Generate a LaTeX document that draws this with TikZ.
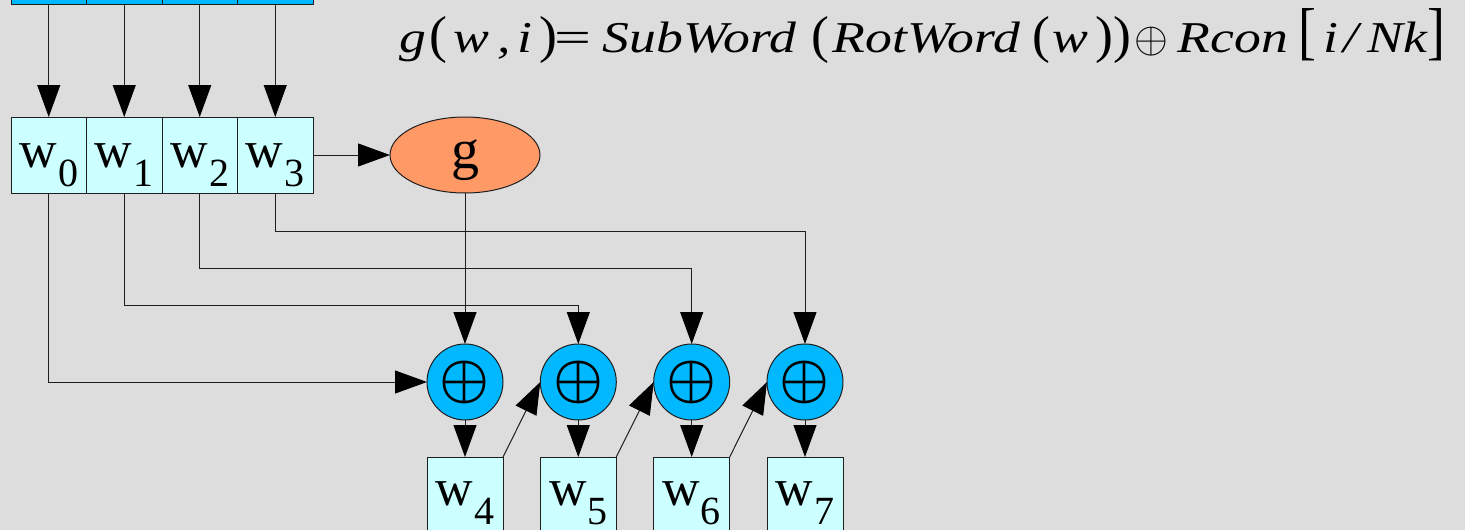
\documentclass[tikz,border=0pt]{standalone}
\usepackage{fontspec}
\setmainfont{Liberation Serif}
\usepackage{graphicx}
\usetikzlibrary{arrows.meta,shapes.geometric}
\definecolor{bgc}{RGB}{221,221,221}
\definecolor{wcyan}{RGB}{204,255,255}
\definecolor{xblue}{RGB}{0,184,255}
\definecolor{gorange}{RGB}{255,153,102}
\definecolor{lncol}{RGB}{30,30,30}
\newcommand\wsub[1]{w\hspace{1pt}\raisebox{-19pt}{\fontsize{40}{40}\selectfont #1}}
\newcommand\bigpar[1]{\scalebox{1}[1.18]{\upshape #1}}
\newcommand\bigbrk[1]{\scalebox{1}[1.44]{\upshape #1}}
\newcommand\tk[2]{\makebox[#1pt][l]{#2}}
\begin{document}
\begin{tikzpicture}[x=1pt,y=-1pt,
  wbox/.style={draw=lncol,line width=1pt,fill=wcyan,minimum width=75.5pt,minimum height=76pt,inner sep=0pt,outer sep=0pt},
  tbox/.style={wbox,fill=xblue},
  xorc/.style={circle,draw=lncol,line width=1pt,fill=xblue,minimum size=76pt,inner sep=0pt,outer sep=0pt},
  gell/.style={ellipse,draw=lncol,line width=1pt,fill=gorange,minimum width=150pt,minimum height=76pt,inner sep=0pt,outer sep=0pt},
  arr/.style={draw=lncol,line width=1pt,-{Triangle[length=32pt,width=23pt,fill=black,color=black]}},
  lbl/.style={inner sep=0pt,anchor=base,font=\fontsize{52}{52}\selectfont},
]
\useasboundingbox (0,0) rectangle (1465,530);
\clip (0,0) rectangle (1465,530);
\fill[bgc] (0,0) rectangle (1465,530);

% top (cut-off) row
\node[tbox] (t0) at (48.75,-34) {};
\node[tbox] (t1) at (124.25,-34) {};
\node[tbox] (t2) at (199.75,-34) {};
\node[tbox] (t3) at (275.25,-34) {};

% w0..w3
\node[wbox] (w0) at (48.75,155) {};
\node[wbox] (w1) at (124.25,155) {};
\node[wbox] (w2) at (199.75,155) {};
\node[wbox] (w3) at (275.25,155) {};
\node[lbl] (l0) at (48.75,167) {\wsub{0}};
\node[lbl] (l1) at (124.25,167) {\wsub{1}};
\node[lbl] (l2) at (199.75,167) {\wsub{2}};
\node[lbl] (l3) at (275.25,167) {\wsub{3}};

% g
\node[gell] (g) at (465,155) {};
\node[lbl,font=\fontsize{56}{56}\selectfont] (gl) at (465,168) {g};

% xor circles
\foreach \i/\x in {1/465,2/578.3,3/691.7,4/805}{
  \node[xorc] (c\i) at (\x,382) {\scalebox{5.6}{\fontsize{10}{12}\selectfont\boldmath$\oplus$}};
}

% bottom boxes
\node[wbox,minimum width=76pt] (w4) at (465,495) {};
\node[wbox,minimum width=76pt] (w5) at (578.3,495) {};
\node[wbox,minimum width=76pt] (w6) at (691.7,495) {};
\node[wbox,minimum width=76pt] (w7) at (805,495) {};
\node[lbl] (l4) at (465,505) {\wsub{4}};
\node[lbl] (l5) at (578.3,505) {\wsub{5}};
\node[lbl] (l6) at (691.7,505) {\wsub{6}};
\node[lbl] (l7) at (805,505) {\wsub{7}};

% formula
\node[anchor=base west,inner sep=0pt] (eq) at (399,52)
 {\scalebox{1.22}[1]{\fontsize{44}{44}\selectfont\itshape
  \tk{24.6}{g}\tk{19.5}{\bigpar{(}}\tk{36.9}{w}\tk{15.6}{,}\tk{18}{i}\tk{13.1}{\bigpar{)}}%
  \tk{39.3}{\scalebox{1.22}[1]{\upshape =}}\tk{171.3}{SubWord}\tk{17.2}{\bigpar{(}}\tk{163.9}{RotWord}%
  \tk{16.4}{\bigpar{(}}\tk{35.2}{w}\tk{14.8}{\bigpar{)}}\tk{17.2}{\bigpar{)}}%
  \tk{35.2}{\scalebox{3.57}[4.35]{\fontsize{10}{12}\selectfont$\oplus$}}%
  \tk{99.2}{Rcon}\tk{20.5}{\bigbrk{[}}\tk{16.4}{i}\tk{19.7}{/}\tk{49.2}{Nk}\bigbrk{]}}};

% connectors
\foreach \i in {0,1,2,3}{ \draw[arr] (t\i.south) -- (w\i.north); }
\draw[arr] (w3.east) -- (g.west);
\draw[arr] (g.south) -- (c1.north);
\draw[arr] (w0.south) |- (c1.west);
\draw[arr] (w1.south) -- ++(0,112) -| (c2.north);
\draw[arr] (w2.south) -- ++(0,75) -| (c3.north);
\draw[arr] (w3.south) -- ++(0,38) -| (c4.north);
\draw[arr] (c1.south) -- (w4.north);
\draw[arr] (c2.south) -- (w5.north);
\draw[arr] (c3.south) -- (w6.north);
\draw[arr] (c4.south) -- (w7.north);
\draw[arr] (w4.north east) -- (c2.west);
\draw[arr] (w5.north east) -- (c3.west);
\draw[arr] (w6.north east) -- (c4.west);
\end{tikzpicture}
\end{document}
